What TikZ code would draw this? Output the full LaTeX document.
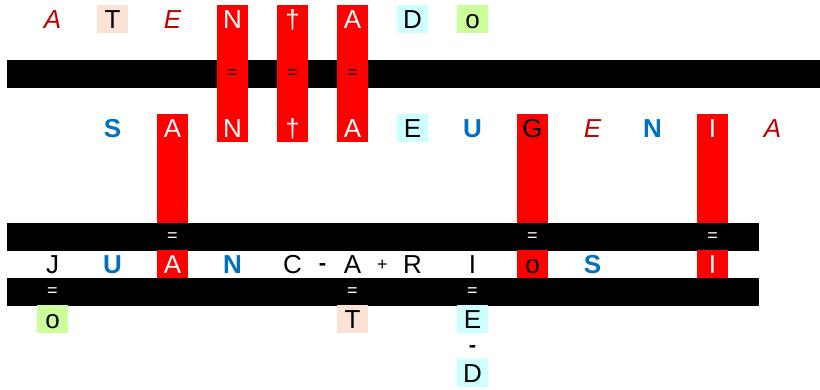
\documentclass[tikz,border=0pt]{standalone}
\usepackage{fontspec}
\setmainfont{Liberation Sans}
\definecolor{rd}{HTML}{FF0000}
\definecolor{dred}{HTML}{C00000}
\definecolor{blu}{HTML}{0070C0}
\definecolor{peach}{HTML}{FBE2D5}
\definecolor{cyanbg}{HTML}{CCFFFF}
\definecolor{greenbg}{HTML}{CCFF99}
\begin{document}
\begin{tikzpicture}[x=1pt,y=-1pt,
  lt/.style={inner sep=0pt, minimum width=31pt, minimum height=28pt,
    text height=18.6pt, text depth=0pt, font=\fontsize{26}{26}\selectfont},
  onred/.style={lt, text=white},
  redbox/.style={lt, fill=rd},
  ital/.style={lt, text=dred, font=\fontsize{26}{26}\selectfont\itshape},
  blue/.style={lt, text=blu, font=\fontsize{26}{26}\selectfont\bfseries},
  pch/.style={lt, fill=peach},
  cyb/.style={lt, fill=cyanbg},
  grb/.style={lt, fill=greenbg},
  eqb/.style={inner sep=0pt, font=\fontsize{18}{18}\selectfont},
  eqw/.style={eqb, text=white},
  sm/.style={inner sep=0pt, font=\fontsize{18}{18}\selectfont},
  hy/.style={inner sep=0pt, font=\fontsize{22}{22}\selectfont\bfseries},
  bar/.style={fill=black},
  redcol/.style={fill=rd}
]
\useasboundingbox (0,0) rectangle (820,390);
% bars and red columns
\fill[bar] (7,60) rectangle (820,88);
\fill[redcol] (217,5) rectangle (248,142);
\fill[redcol] (277,5) rectangle (308,142);
\fill[redcol] (337,5) rectangle (368,142);
\fill[redcol] (157,114) rectangle (188,223);
\fill[redcol] (517,114) rectangle (548,223);
\fill[redcol] (697,114) rectangle (728,223);
\fill[bar] (7,223) rectangle (759,251);
\fill[bar] (7,278) rectangle (759,306);
% row 1
\node[ital] (r1a) at (52.5,19) {A};
\node[pch] (r1b) at (112.5,19) {T};
\node[ital] (r1c) at (172.5,19) {E};
\node[onred] (r1d) at (232.5,19) {N};
\node[onred] (r1e) at (292.5,19) {†};
\node[onred] (r1f) at (352.5,19) {A};
\node[cyb] (r1g) at (412.5,19) {D};
\node[grb] (r1h) at (472.5,19) {o};
% bar 1 marks
\node[eqb] (e1a) at (232.5,74) {=};
\node[eqb] (e1b) at (292.5,74) {=};
\node[eqb] (e1c) at (352.5,74) {=};
% row 2
\node[blue] (r2a) at (112.5,128) {S};
\node[onred] (r2b) at (172.5,128) {A};
\node[onred] (r2c) at (232.5,128) {N};
\node[onred] (r2d) at (292.5,128) {†};
\node[onred] (r2e) at (352.5,128) {A};
\node[cyb] (r2f) at (412.5,128) {E};
\node[blue] (r2g) at (472.5,128) {U};
\node[lt] (r2h) at (532.5,128) {G};
\node[ital] (r2i) at (592.5,128) {E};
\node[blue] (r2j) at (652.5,128) {N};
\node[onred] (r2k) at (712.5,128) {I};
\node[ital] (r2l) at (772.5,128) {A};
% bar 2 marks
\node[eqw] (e2a) at (172.5,237) {=};
\node[eqw] (e2b) at (532.5,237) {=};
\node[eqw] (e2c) at (712.5,237) {=};
% row 3
\node[lt] (r3a) at (52.5,264.5) {J};
\node[blue] (r3b) at (112.5,264.5) {U};
\node[redbox, text=white] (r3c) at (172.5,264.5) {A};
\node[blue] (r3d) at (232.5,264.5) {N};
\node[lt] (r3e) at (292.5,264.5) {C};
\node[hy] (r3m) at (322.5,266.5) {-};
\node[lt] (r3f) at (352.5,264.5) {A};
\node[sm] (r3p) at (382.5,265) {+};
\node[lt] (r3g) at (412.5,264.5) {R};
\node[lt] (r3h) at (472.5,264.5) {I};
\node[redbox] (r3i) at (532.5,264.5) {o};
\node[blue] (r3j) at (592.5,264.5) {S};
\node[redbox, text=white] (r3k) at (712.5,264.5) {I};
% bar 3 marks
\node[eqw] (e3a) at (52.5,292) {=};
\node[eqw] (e3b) at (352.5,292) {=};
\node[eqw] (e3c) at (472.5,292) {=};
% row 4
\node[grb] (r4a) at (52.5,319.5) {o};
\node[pch] (r4b) at (352.5,319.5) {T};
\node[cyb] (r4c) at (472.5,319.5) {E};
% row 5, 6
\node[hy] (r5) at (472.5,348.5) {-};
\node[cyb] (r6) at (472.5,373) {D};
\end{tikzpicture}
\end{document}
